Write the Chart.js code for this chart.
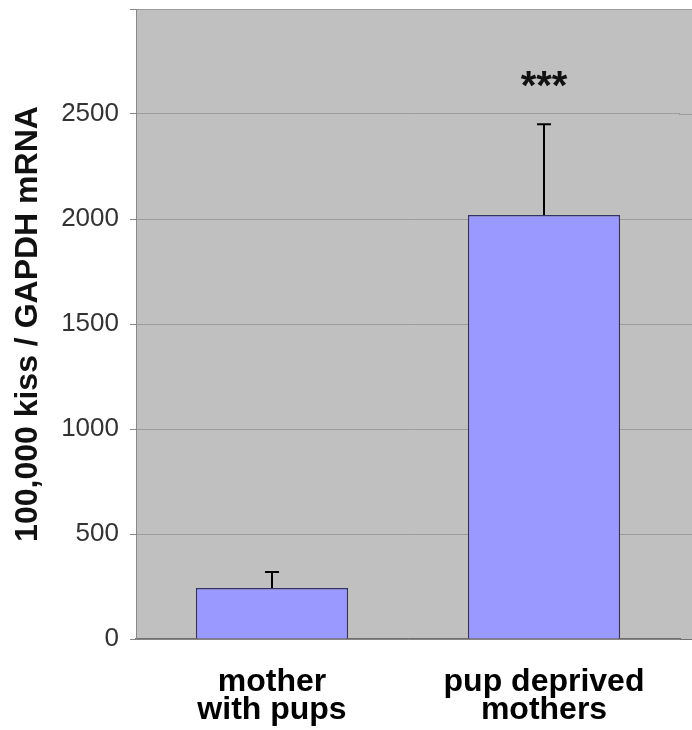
<!DOCTYPE html>
<html>
<head>
<meta charset="utf-8">
<script src="https://cdn.jsdelivr.net/npm/chart.js@4"></script>
<style>
  body { margin: 0; background: #fff; }
</style>
</head>
<body>
<canvas id="chart1" width="692" height="730"></canvas>
<script>
// values
const groups = [['mother', 'with pups'], ['pup deprived', 'mothers']];
const means = [243, 2019];
const errors = [76, 432];
const marks = ['', '***'];
const yTicks = [0, 500, 1000, 1500, 2000, 2500, 3000];

const fam = '"Liberation Sans", Arial, sans-serif';

// gray plot panel runs on to the cropped right edge
const plotBack = {
  id: 'plotBack',
  beforeDraw(chart) {
    const { ctx, chartArea: a } = chart;
    const y = chart.scales.y;
    ctx.save();
    ctx.fillStyle = '#c0c0c0';
    ctx.fillRect(a.left, a.top, chart.width - a.left, a.bottom - a.top);
    ctx.lineWidth = 1;
    yTicks.forEach(v => {
      const py = Math.round(y.getPixelForValue(v)) + 0.5;
      ctx.strokeStyle = v === 0 ? '#707070' : '#9c9c9c';
      ctx.beginPath();
      ctx.moveTo(a.right - 1, py);
      ctx.lineTo(chart.width, py);
      ctx.stroke();
    });
    ctx.restore();
  }
};

const errBars = {
  id: 'errBars',
  afterDatasetsDraw(chart) {
    const { ctx } = chart;
    const y = chart.scales.y;
    const meta = chart.getDatasetMeta(0);
    ctx.save();
    ctx.strokeStyle = '#000';
    ctx.lineWidth = 2;
    meta.data.forEach((bar, i) => {
      const top = y.getPixelForValue(means[i] + errors[i]);
      ctx.beginPath();
      ctx.moveTo(bar.x, bar.y);
      ctx.lineTo(bar.x, top);
      ctx.moveTo(bar.x - 7, top);
      ctx.lineTo(bar.x + 7, top);
      ctx.stroke();
      if (marks[i]) {
        ctx.fillStyle = '#111';
        ctx.font = 'bold 40px ' + fam;
        ctx.textAlign = 'center';
        ctx.textBaseline = 'alphabetic';
        ctx.fillText(marks[i], bar.x, top - 25);
      }
    });
    ctx.restore();
  }
};

new Chart(document.getElementById('chart1'), {
  type: 'bar',
  data: {
    labels: groups,
    datasets: [{
      data: means,
      backgroundColor: '#9999ff',
      borderColor: '#333366',
      borderWidth: 1.5,
      barPercentage: 0.56,
      categoryPercentage: 1
    }]
  },
  options: {
    responsive: false,
    animation: false,
    layout: { padding: { top: 9, right: 12, bottom: 0, left: 0 } },
    plugins: {
      legend: { display: false },
      tooltip: { enabled: false }
    },
    scales: {
      x: {
        grid: { display: false, drawTicks: false },
        border: { color: '#707070', width: 1.5 },
        ticks: {
          color: '#000',
          padding: 29,
          maxRotation: 0,
          autoSkip: false,
          font: { family: fam, size: 32, weight: 'bold', lineHeight: 0.875 }
        },
        afterFit(s) { s.height = 91; s.paddingLeft = 0; s.paddingRight = 0; }
      },
      y: {
        min: 0,
        max: 3000,
        afterBuildTicks(s) { s.ticks = yTicks.map(v => ({ value: v })); },
        ticks: {
          color: '#333',
          padding: 11,
          font: { family: fam, size: 26 },
          callback: v => (v < 3000 ? v : '')
        },
        grid: { color: '#9c9c9c', tickColor: '#888', tickLength: 6 },
        border: { color: '#888' },
        title: {
          display: true,
          text: '100,000 kiss / GAPDH mRNA',
          color: '#111',
          font: { family: fam, size: 32, weight: 'bold' },
          padding: { top: 9, bottom: 0 }
        },
        afterFit(s) { s.width = 136; s.paddingTop = 0; s.paddingBottom = 0; }
      }
    }
  },
  plugins: [plotBack, errBars]
});
</script>
</body>
</html>
